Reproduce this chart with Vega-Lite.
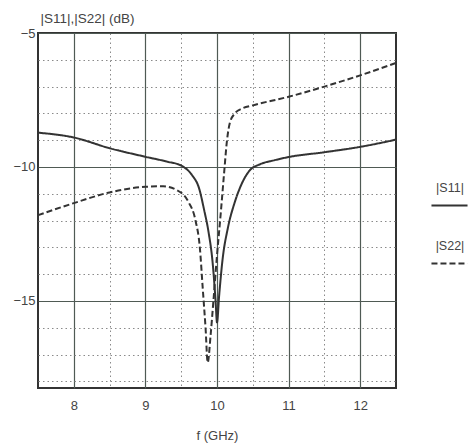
{
  "$schema": "https://vega.github.io/schema/vega-lite/v6.json",
  "width": 358,
  "height": 355,
  "autosize": "none",
  "padding": {"left": 38, "top": 33, "right": 79, "bottom": 57},
  "background": "#ffffff",
  "config": {
    "view": {"stroke": "#333333", "strokeWidth": 2},
    "font": "Liberation Sans"
  },
  "data": {
    "values": [
      {"f": 7.5, "v": -8.72, "s": "|S11|"},
      {"f": 8.0, "v": -8.9, "s": "|S11|"},
      {"f": 8.5, "v": -9.3, "s": "|S11|"},
      {"f": 9.0, "v": -9.62, "s": "|S11|"},
      {"f": 9.3, "v": -9.8, "s": "|S11|"},
      {"f": 9.5, "v": -9.95, "s": "|S11|"},
      {"f": 9.65, "v": -10.3, "s": "|S11|"},
      {"f": 9.75, "v": -10.8, "s": "|S11|"},
      {"f": 9.82, "v": -11.6, "s": "|S11|"},
      {"f": 9.88, "v": -12.4, "s": "|S11|"},
      {"f": 9.94, "v": -13.6, "s": "|S11|"},
      {"f": 9.98, "v": -15.0, "s": "|S11|"},
      {"f": 10.0, "v": -15.8, "s": "|S11|"},
      {"f": 10.03, "v": -14.8, "s": "|S11|"},
      {"f": 10.08, "v": -13.4, "s": "|S11|"},
      {"f": 10.15, "v": -12.3, "s": "|S11|"},
      {"f": 10.25, "v": -11.3, "s": "|S11|"},
      {"f": 10.35, "v": -10.6, "s": "|S11|"},
      {"f": 10.45, "v": -10.15, "s": "|S11|"},
      {"f": 10.6, "v": -9.9, "s": "|S11|"},
      {"f": 10.8, "v": -9.75, "s": "|S11|"},
      {"f": 11.0, "v": -9.63, "s": "|S11|"},
      {"f": 11.5, "v": -9.45, "s": "|S11|"},
      {"f": 12.0, "v": -9.25, "s": "|S11|"},
      {"f": 12.5, "v": -8.98, "s": "|S11|"},
      {"f": 7.5, "v": -11.8, "s": "|S22|"},
      {"f": 8.0, "v": -11.35, "s": "|S22|"},
      {"f": 8.5, "v": -10.95, "s": "|S22|"},
      {"f": 9.0, "v": -10.74, "s": "|S22|"},
      {"f": 9.25, "v": -10.72, "s": "|S22|"},
      {"f": 9.45, "v": -10.88, "s": "|S22|"},
      {"f": 9.6, "v": -11.3, "s": "|S22|"},
      {"f": 9.7, "v": -12.0, "s": "|S22|"},
      {"f": 9.76, "v": -13.0, "s": "|S22|"},
      {"f": 9.8, "v": -14.5, "s": "|S22|"},
      {"f": 9.84, "v": -16.0, "s": "|S22|"},
      {"f": 9.87, "v": -17.3, "s": "|S22|"},
      {"f": 9.91, "v": -16.3, "s": "|S22|"},
      {"f": 9.95, "v": -15.0, "s": "|S22|"},
      {"f": 10.0, "v": -13.3, "s": "|S22|"},
      {"f": 10.05, "v": -11.8, "s": "|S22|"},
      {"f": 10.1, "v": -10.2, "s": "|S22|"},
      {"f": 10.14, "v": -9.0, "s": "|S22|"},
      {"f": 10.18, "v": -8.35, "s": "|S22|"},
      {"f": 10.25, "v": -8.0, "s": "|S22|"},
      {"f": 10.35, "v": -7.82, "s": "|S22|"},
      {"f": 10.5, "v": -7.7, "s": "|S22|"},
      {"f": 11.0, "v": -7.38, "s": "|S22|"},
      {"f": 11.5, "v": -7.0, "s": "|S22|"},
      {"f": 12.0, "v": -6.58, "s": "|S22|"},
      {"f": 12.5, "v": -6.12, "s": "|S22|"}
    ]
  },
  "mark": {"type": "line", "stroke": "#333333", "strokeWidth": 2, "interpolate": "monotone"},
  "encoding": {
    "x": {
      "field": "f", "type": "quantitative",
      "scale": {"domain": [7.5, 12.5], "nice": false, "zero": false},
      "axis": {
        "values": [8, 8.5, 9, 9.5, 10, 10.5, 11, 11.5, 12],
        "labelExpr": "datum.value % 1 === 0 ? datum.value : ''",
        "ticks": false, "domain": false,
        "labelPadding": 11, "labelFontSize": 13, "labelColor": "#444444",
        "grid": true,
        "gridColor": {"condition": {"test": "datum.value % 1 !== 0", "value": "#8a8a8a"}, "value": "#4f5a54"},
        "gridDash": {"condition": {"test": "datum.value % 1 !== 0", "value": [1.5, 3]}, "value": []},
        "gridWidth": {"condition": {"test": "datum.value % 1 !== 0", "value": 1}, "value": 1.2},
        "gridOpacity": 1,
        "title": "f (GHz)", "titleFontWeight": "normal", "titleFontSize": 13,
        "titleColor": "#444444", "titlePadding": 17
      }
    },
    "y": {
      "field": "v", "type": "quantitative",
      "scale": {"domain": [-18.25, -5], "nice": false, "zero": false},
      "axis": {
        "values": [-18, -17, -16, -15, -14, -13, -12, -11, -10, -9, -8, -7, -6, -5],
        "labelExpr": "datum.value % 5 === 0 ? '−' + abs(datum.value) : ''",
        "ticks": false, "domain": false,
        "labelPadding": 3, "labelFontSize": 13, "labelColor": "#444444",
        "grid": true,
        "gridColor": {"condition": {"test": "datum.value % 5 !== 0", "value": "#8a8a8a"}, "value": "#4f5a54"},
        "gridDash": {"condition": {"test": "datum.value % 5 !== 0", "value": [1.5, 3]}, "value": []},
        "gridWidth": {"condition": {"test": "datum.value % 5 !== 0", "value": 1}, "value": 1.2},
        "gridOpacity": 1,
        "title": "|S11|,|S22| (dB)", "titleAngle": 0, "titleX": 2, "titleY": -15,
        "titleAlign": "left", "titleBaseline": "middle",
        "titleFontWeight": "normal", "titleFontSize": 13.5, "titleColor": "#444444"
      }
    },
    "strokeDash": {
      "field": "s", "type": "nominal",
      "scale": {"domain": ["|S11|", "|S22|"], "range": [[1, 0], [6, 3]]},
      "legend": {
        "title": null,
        "orient": "none",
        "legendX": 392,
        "legendY": 135,
        "symbolType": "M-1,1L1,1",
        "symbolSize": 1300,
        "symbolStrokeColor": "#333333",
        "symbolStrokeWidth": 2,
        "symbolFillColor": "transparent",
        "labelAlign": "center",
        "labelOffset": -19,
        "labelFontSize": 12.5,
        "labelColor": "#444444",
        "rowPadding": 16
      }
    }
  }
}
